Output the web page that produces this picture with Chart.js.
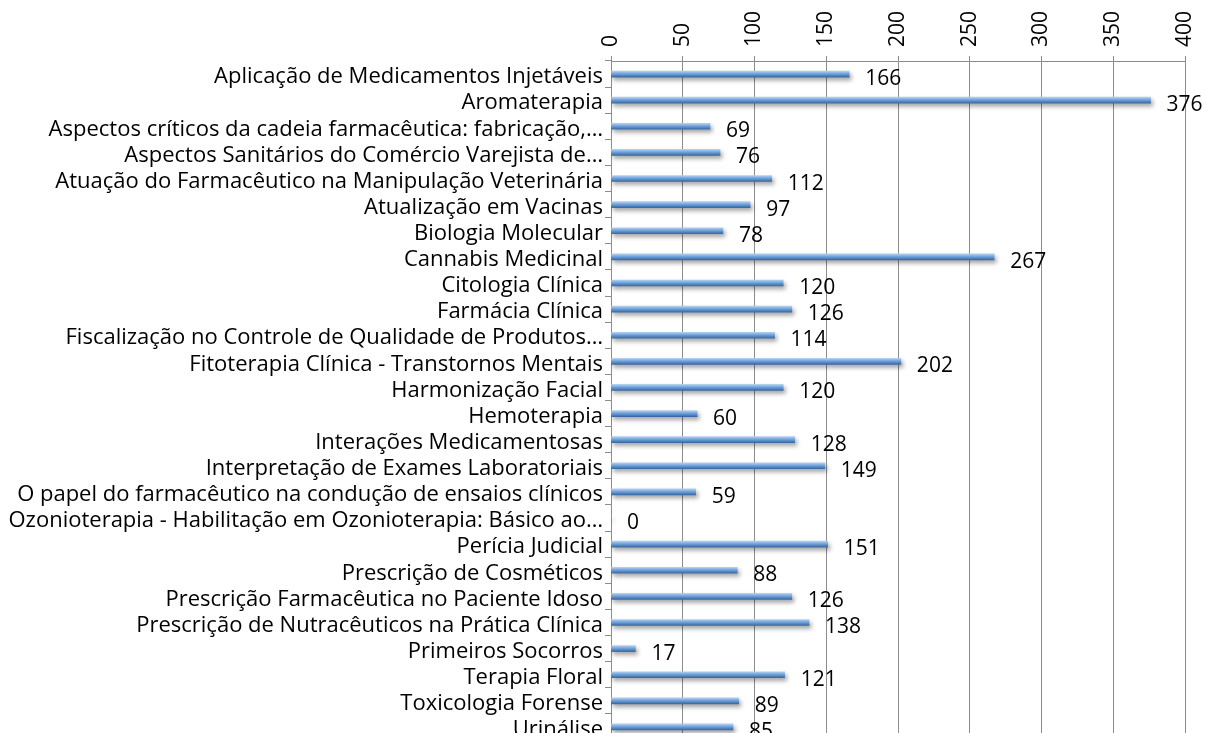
<!DOCTYPE html>
<html>
<head>
<meta charset="utf-8">
<script src="https://cdn.jsdelivr.net/npm/chart.js@4/dist/chart.umd.min.js"></script>
<style>
  html, body { margin: 0; padding: 0; overflow: hidden; background: white; }
</style>
</head>
<body>
<canvas id="chart" width="1207" height="741"></canvas>
<script>
const courses = [
  "Aplicação de Medicamentos Injetáveis",
  "Aromaterapia",
  "Aspectos críticos da cadeia farmacêutica: fabricação,…",
  "Aspectos Sanitários do Comércio Varejista de…",
  "Atuação do Farmacêutico na Manipulação Veterinária",
  "Atualização em Vacinas",
  "Biologia Molecular",
  "Cannabis Medicinal",
  "Citologia Clínica",
  "Farmácia Clínica",
  "Fiscalização no Controle de Qualidade de Produtos…",
  "Fitoterapia Clínica - Transtornos Mentais",
  "Harmonização Facial",
  "Hemoterapia",
  "Interações Medicamentosas",
  "Interpretação de Exames Laboratoriais",
  "O papel do farmacêutico na condução de ensaios clínicos",
  "Ozonioterapia - Habilitação em Ozonioterapia: Básico ao…",
  "Perícia Judicial",
  "Prescrição de Cosméticos",
  "Prescrição Farmacêutica no Paciente Idoso",
  "Prescrição de Nutracêuticos na Prática Clínica",
  "Primeiros Socorros",
  "Terapia Floral",
  "Toxicologia Forense",
  "Urinálise"
]
const enrolled = [166, 376, 69, 76, 112, 97, 78, 267, 120, 126, 114, 202, 120, 60, 128, 149, 59, 0, 151, 88, 126, 138, 17, 121, 89, 85]
const xMin = 0
const xMax = 400
const xStep = 50

const gridColor = "#8c8c8c"
const fontFamily = "'Open Sans', sans-serif"

// 3D-ish look: vertical gradient per bar
function barGradient(context) {
  const chart = context.chart
  const yScale = chart.scales.y
  if (!yScale || context.dataIndex === undefined) return "#5b9bd5"
  const y = yScale.getPixelForValue(context.dataIndex)
  if (!isFinite(y)) return "#5b9bd5"
  const g = chart.ctx.createLinearGradient(0, y - 3, 0, y + 3)
  g.addColorStop(0, "#b4d0f0")
  g.addColorStop(0.45, "#6fa3dc")
  g.addColorStop(1, "#3a68a3")
  return g
}

const barShadow = {
  id: "barShadow",
  beforeDatasetsDraw(chart) {
    const ctx = chart.ctx
    ctx.save()
    ctx.shadowColor = "rgba(0, 0, 0, 0.35)"
    ctx.shadowBlur = 4
    ctx.shadowOffsetX = 2
    ctx.shadowOffsetY = 3
  },
  afterDatasetsDraw(chart) {
    chart.ctx.restore()
  }
}

const valueLabels = {
  id: "valueLabels",
  afterDraw(chart) {
    const ctx = chart.ctx
    const meta = chart.getDatasetMeta(0)
    ctx.save()
    ctx.font = "21px " + fontFamily
    ctx.fillStyle = "#000"
    ctx.textAlign = "left"
    ctx.textBaseline = "middle"
    meta.data.forEach((bar, i) => {
      ctx.fillText(String(enrolled[i]), bar.x + 16, bar.y + 5)
    })
    ctx.restore()
  }
}

const chart = new Chart(document.getElementById("chart").getContext("2d"), {
  type: "bar",
  data: {
    labels: courses,
    datasets: [{
      data: enrolled,
      backgroundColor: barGradient,
      borderWidth: 0,
      barThickness: 6
    }]
  },
  options: {
    indexAxis: "y",
    responsive: false,
    animation: false,
    layout: { padding: { top: 0, right: 22, bottom: 1, left: 0 } },
    plugins: {
      legend: { display: false },
      tooltip: { enabled: false }
    },
    scales: {
      x: {
        position: "top",
        min: xMin,
        max: xMax,
        afterFit: scale => { scale.height = 61 },
        ticks: {
          stepSize: xStep,
          minRotation: 90,
          maxRotation: 90,
          padding: 9,
          labelOffset: 25,
          color: "#000",
          font: { family: fontFamily, size: 21 }
        },
        grid: { color: gridColor, lineWidth: 1, tickLength: 5 },
        border: { color: gridColor }
      },
      y: {
        afterFit: scale => {
          scale.width = 611
          scale.paddingTop = 0
          scale.paddingBottom = 0
        },
        ticks: {
          autoSkip: false,
          padding: 2,
          labelOffset: 3,
          color: "#000",
          font: { family: fontFamily, size: 22 }
        },
        grid: { offset: true, drawOnChartArea: false, color: gridColor, tickLength: 6 },
        border: { color: gridColor }
      }
    }
  },
  plugins: [barShadow, valueLabels]
});
// second pass so the gradients can use the laid-out scale
chart.update()
</script>
</body>
</html>
